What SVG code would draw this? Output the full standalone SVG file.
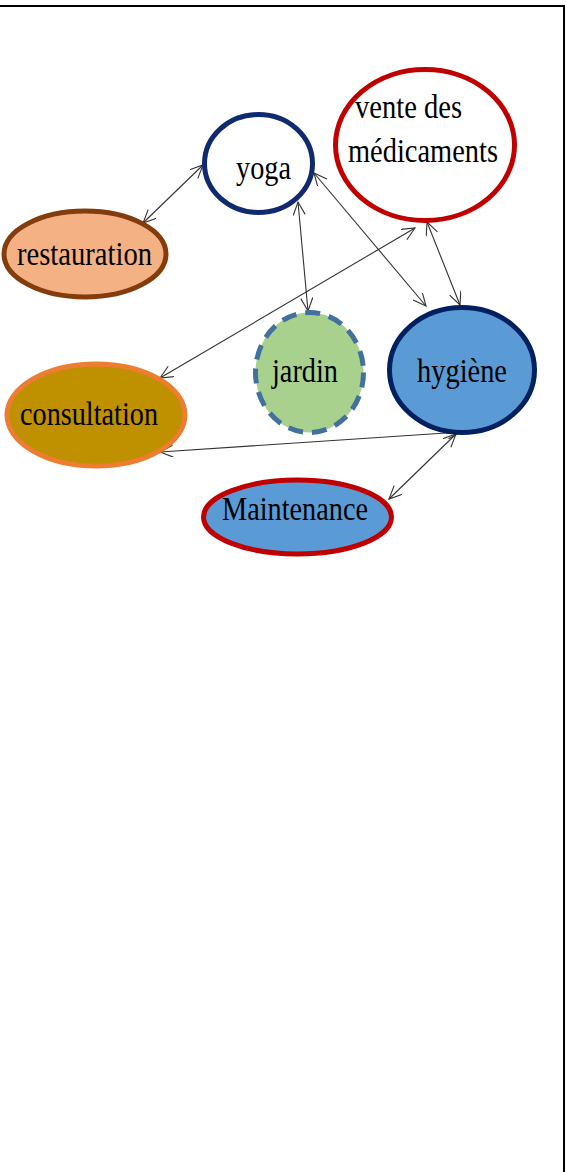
<svg xmlns="http://www.w3.org/2000/svg" width="566" height="1172" viewBox="0 0 566 1172">
<style>
.lbl{font-family:"Liberation Serif","Times New Roman",serif;font-size:34px;fill:#000}
.edge{stroke:#333;stroke-width:1.1;fill:none;marker-start:url(#ah);marker-end:url(#ah)}
</style>
<defs>
<marker id="ah" markerUnits="userSpaceOnUse" markerWidth="16" markerHeight="14" refX="14" refY="6" orient="auto-start-reverse">
<path d="M1,0 L14,6 L1,12" fill="none" stroke="#333" stroke-width="1.1"/>
</marker>
</defs>
<rect width="566" height="1172" fill="#fff"/>
<path d="M0,6 H564 V1172" fill="none" stroke="#000" stroke-width="2"/>
<g id="connectors">
<line class="edge" x1="203" y1="165" x2="143" y2="223"/>
<line class="edge" x1="298" y1="202" x2="308" y2="311"/>
<line class="edge" x1="314" y1="173" x2="426" y2="306"/>
<line class="edge" x1="160" y1="378" x2="415" y2="228"/>
<line class="edge" x1="427" y1="222" x2="460" y2="305"/>
<line class="edge" x1="160" y1="452" x2="461" y2="432"/>
<line class="edge" x1="456" y1="434" x2="389" y2="499"/>
</g>
<g id="yoga">
<ellipse cx="258.5" cy="163.5" rx="54" ry="49" fill="#fff" stroke="#0f2a6e" stroke-width="5"/>
<text class="lbl" x="236" y="179" textLength="55" lengthAdjust="spacingAndGlyphs">yoga</text>
</g>
<g id="vente">
<ellipse cx="425" cy="145" rx="89.5" ry="75.5" fill="#fff" stroke="#c00000" stroke-width="5"/>
<text class="lbl" x="355" y="118" textLength="107" lengthAdjust="spacingAndGlyphs">vente des</text>
<text class="lbl" x="348" y="162" textLength="150" lengthAdjust="spacingAndGlyphs">médicaments</text>
</g>
<g id="restauration">
<ellipse cx="85" cy="254" rx="81" ry="43" fill="#f4b183" stroke="#843c0c" stroke-width="5"/>
<text class="lbl" x="17" y="265" textLength="135" lengthAdjust="spacingAndGlyphs">restauration</text>
</g>
<g id="jardin">
<ellipse cx="309.5" cy="372.5" rx="54" ry="60" fill="#a9d18e" stroke="#41719c" stroke-width="5" stroke-dasharray="15,9"/>
<text class="lbl" x="272" y="382" textLength="66" lengthAdjust="spacingAndGlyphs">jardin</text>
</g>
<g id="hygiene">
<ellipse cx="462" cy="370" rx="72.5" ry="62.5" fill="#5b9bd5" stroke="#002060" stroke-width="5"/>
<text class="lbl" x="417" y="382" textLength="90" lengthAdjust="spacingAndGlyphs">hygiène</text>
</g>
<g id="consultation">
<ellipse cx="96" cy="415" rx="89" ry="51" fill="#bf9000" stroke="#ed7d31" stroke-width="5"/>
<text class="lbl" x="20" y="425" textLength="138" lengthAdjust="spacingAndGlyphs">consultation</text>
</g>
<g id="maintenance">
<ellipse cx="297.5" cy="517" rx="94" ry="37" fill="#5b9bd5" stroke="#c00000" stroke-width="5"/>
<text class="lbl" x="222" y="520" textLength="146" lengthAdjust="spacingAndGlyphs">Maintenance</text>
</g>
</svg>
